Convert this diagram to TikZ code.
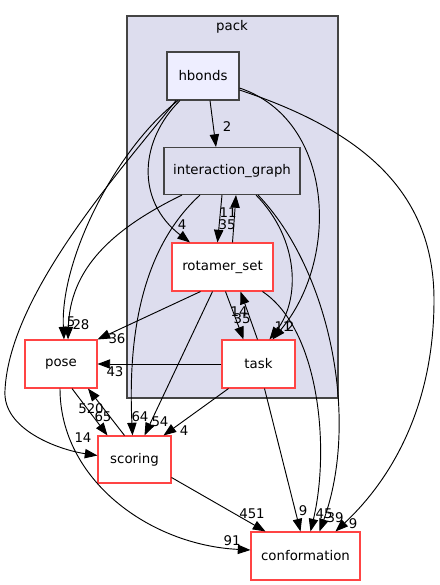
\documentclass[tikz,border=0pt]{standalone}
\usepackage{fontspec}
\setmainfont{DejaVu Sans}
\usetikzlibrary{calc, arrows.meta}
\definecolor{packfill}{HTML}{DDDDEE}
\definecolor{dirline}{HTML}{444444}
\definecolor{hbfill}{HTML}{EEEEFF}
\definecolor{dirred}{HTML}{FF4444}
\tikzset{
	dirbox/.style={draw=dirline, line width=0.8pt, minimum height=36pt, inner sep=0pt},
	reddir/.style={dirbox, draw=dirred, fill=white},
	dep/.style={-{Triangle[length=9.5pt,width=7pt]}, line width=0.7pt},
	lbl/.style={inner sep=0pt}
}
\begin{document}
\begin{tikzpicture}[x=0.75pt, y=-0.75pt]
	\useasboundingbox (0,0) rectangle (439,585);
	\draw[draw=dirline, fill=packfill, line width=0.8pt] (127,16) rectangle (338,398);
	\node (pack) at (232,27) {pack};

	\node[dirbox, fill=hbfill, minimum width=54pt] (hbonds) at (203,76) {hbonds};
	\node[dirbox, fill=packfill, minimum width=102pt, minimum height=35.25pt] (intgraph) at (232,171) {interaction\_graph};
	\node[reddir, minimum width=75.75pt] (rotset) at (222.5,267) {rotamer\_set};
	\node[reddir, minimum width=54.75pt] (task) at (258.5,364) {task};
	\node[reddir, minimum width=54pt] (pose) at (61,364) {pose};
	\node[reddir, minimum width=54.75pt, minimum height=35.25pt] (scoring) at (134.5,459.5) {scoring};
	\node[reddir, minimum width=81.75pt] (conf) at (305.5,556) {conformation};

	% hbonds
	\draw[dep] ($(hbonds.south)+(7,0)$) -- ($(intgraph.north)+(-16,0)$) node[lbl, at={(227,127)}] (e1) {2};
	\draw[dep] ($(hbonds.south)+(-23,0)$) .. controls (140,140) and (135,200) .. ($(rotset.north)+(-32.5,0)$) node[lbl, at={(182,225)}] (e2) {4};
	\draw[dep] ($(hbonds.south)+(-25,0)$) .. controls (115,150) and (60,260) .. ($(pose.north)+(3,0)$) node[lbl, at={(71,322)}] (e3) {5};
	\draw[dep] ($(hbonds.south)+(-27,0)$) .. controls (130,160) and (10,290) .. (5,390) .. controls (2,430) and (60,450) .. ($(scoring.west)+(0,-4)$) node[lbl, at={(83,438)}] (e4) {14};
	\draw[dep] ($(hbonds.east)+(0,12)$) .. controls (335,120) and (340,260) .. ($(task.north)+(14,0)$) node[lbl, at={(290,327)}] (e5) {2};
	\draw[dep] ($(hbonds.east)+(0,14)$) .. controls (360,130) and (434,190) .. (434,300) .. controls (434,420) and (380,490) .. ($(conf.north)+(30,0)$) node[lbl, at={(353,524)}] (e6) {9};

	% interaction_graph
	\draw[dep] ($(intgraph.south)+(-10,0)$) -- ($(rotset.north)+(-5,0)$) node[lbl, at={(227,225)}] (e7) {35};
	\draw[dep] ($(intgraph.south)+(-50,0)$) .. controls (110,230) and (70,270) .. ($(pose.north)+(7,0)$) node[lbl, at={(81,325)}] (e8) {28};
	\draw[dep] ($(intgraph.south)+(-32,0)$) .. controls (140,250) and (128,340) .. ($(scoring.north)+(-2,0)$) node[lbl, at={(140,417)}] (e9) {64};
	\draw[dep] ($(intgraph.south)+(24,0)$) .. controls (300,240) and (300,300) .. ($(task.north)+(11,0)$) node[lbl, at={(283,327)}] (e10) {11};
	\draw[dep] ($(intgraph.south)+(26,0)$) .. controls (330,270) and (360,420) .. ($(conf.north)+(14,0)$) node[lbl, at={(335,518)}] (e11) {39};

	% rotamer_set
	\draw[dep] ($(rotset.north)+(10,0)$) -- ($(intgraph.south)+(4,0)$) node[lbl, at={(228,213)}] (e12) {11};
	\draw[dep] ($(rotset.south)+(3,0)$) -- ($(task.north)+(-15,0)$) node[lbl, at={(242,319)}] (e13) {35};
	\draw[dep] ($(rotset.south)+(-22,0)$) -- (pose.north east) node[lbl, at={(117,339)}] (e14) {36};
	\draw[dep] ($(rotset.south)+(-10,0)$) -- ($(scoring.north)+(10,0)$) node[lbl, at={(160,422)}] (e15) {54};
	\draw[dep] ($(rotset.south)+(40,0)$) .. controls (320,330) and (330,450) .. ($(conf.north)+(5,0)$) node[lbl, at={(324,514)}] (e16) {45};

	% task
	\draw[dep] ($(task.north)+(-1,0)$) -- ($(rotset.south)+(18,0)$) node[lbl, at={(239,312)}] (e17) {14};
	\draw[dep] (task.west) -- (pose.east) node[lbl, at={(115,372)}] (e18) {43};
	\draw[dep] ($(task.south)+(-30,0)$) -- ($(scoring.north)+(29,0)$) node[lbl, at={(184,431)}] (e19) {4};
	\draw[dep] ($(task.south)+(6,0)$) -- ($(conf.north)+(-5,0)$) node[lbl, at={(303,511)}] (e20) {9};

	% pose, scoring
	\draw[dep] ($(pose.south)+(11,0)$) -- ($(scoring.north)+(-27,0)$) node[lbl, at={(103,417)}] (e21) {65};
	\draw[dep] ($(pose.south)+(-1,0)$) .. controls (60,480) and (150,545) .. ($(conf.west)+(0,-6)$) node[lbl, at={(232,541)}] (e22) {91};
	\draw[dep] ($(scoring.north)+(-10,0)$) -- ($(pose.south)+(27,0)$) node[lbl, at={(91,409)}] (e23) {520};
	\draw[dep] ($(scoring.east)+(0,18)$) -- ($(conf.north)+(-40,0)$) node[lbl, at={(252,514)}] (e24) {451};
\end{tikzpicture}
\end{document}
